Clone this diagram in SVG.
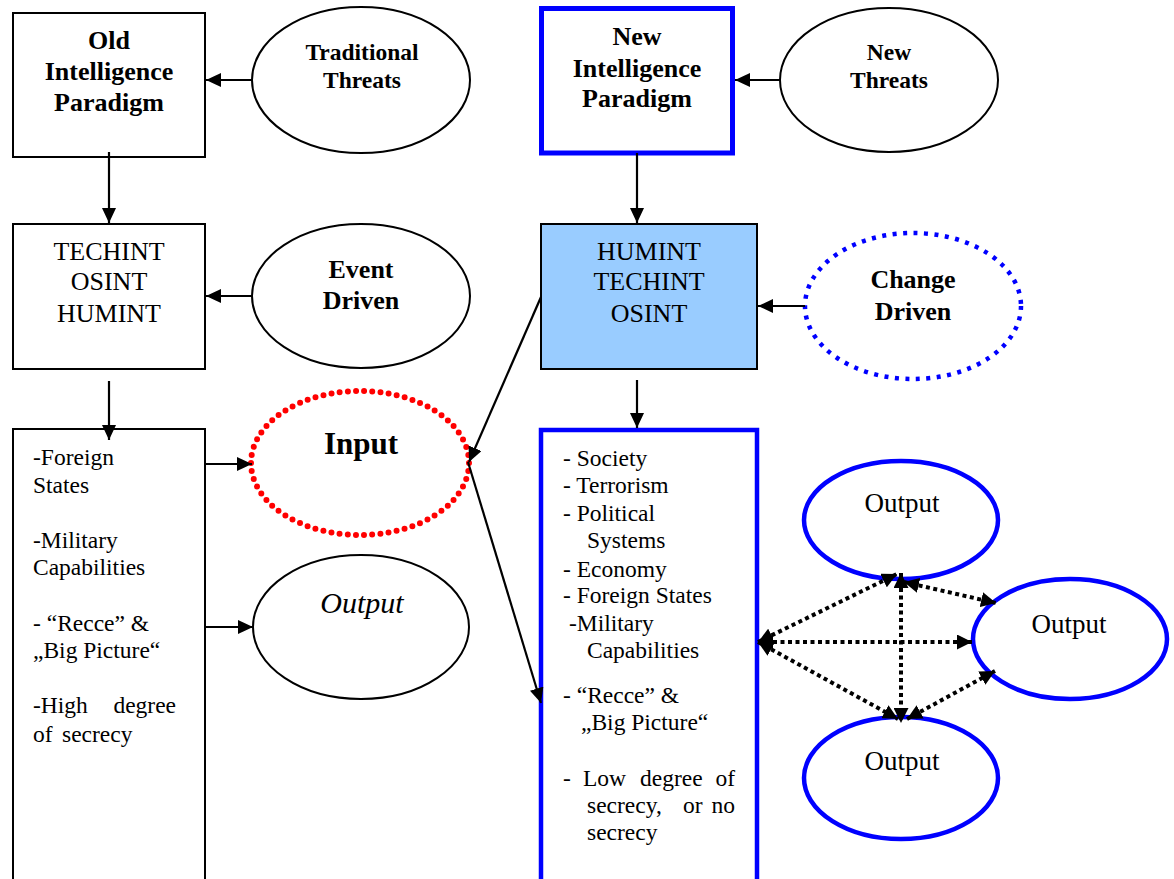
<svg xmlns="http://www.w3.org/2000/svg" width="1174" height="879" viewBox="0 0 1174 879">
  <style>
    text { font-family: 'Liberation Serif', 'DejaVu Serif', serif; fill: #000; }
    .b26 { font-size: 26px; font-weight: bold; text-anchor: middle; }
    .b23 { font-size: 23.5px; font-weight: bold; text-anchor: middle; }
    .r26 { font-size: 26px; text-anchor: middle; }
    .lst { font-size: 23.5px; }
    .out { font-size: 27px; text-anchor: middle; }
    .box { fill: #fff; stroke: #000; stroke-width: 2; }
    .oval { fill: #fff; stroke: #000; stroke-width: 2; }
    .blue { fill: #fff; stroke: #0000ff; stroke-width: 4.5; }
    .conn { fill: none; stroke: #000; stroke-width: 2.2; }
    .dot { fill: none; stroke: #000; stroke-width: 4; stroke-dasharray: 4 3.5; }
  </style>
  <defs>
    <marker id="ah" markerUnits="userSpaceOnUse" markerWidth="16" markerHeight="14" refX="15" refY="7" orient="auto">
      <path d="M0,0 L15,7 L0,14 z" fill="#000"/>
    </marker>
    <marker id="dh" markerUnits="userSpaceOnUse" markerWidth="16" markerHeight="15" refX="15" refY="7.5" orient="auto-start-reverse">
      <path d="M0,0 L15,7.5 L0,15 z" fill="#000"/>
    </marker>
  </defs>

  <rect width="1174" height="879" fill="#fff"/>

  <!-- left column: old paradigm -->
  <g id="old-paradigm">
    <rect class="box" x="13" y="13" width="192" height="144"/>
    <text class="b26" x="109" y="49" font-family="Liberation Serif">Old</text>
    <text class="b26" x="109" y="80">Intelligence</text>
    <text class="b26" x="109" y="111">Paradigm</text>
  </g>
  <g id="traditional-threats">
    <ellipse class="oval" cx="361" cy="80" rx="109" ry="73"/>
    <text class="b23" x="362" y="60">Traditional</text>
    <text class="b23" x="362" y="88">Threats</text>
  </g>
  <g id="old-sources">
    <rect class="box" x="13" y="224" width="192" height="145"/>
    <text class="r26" x="109" y="260">TECHINT</text>
    <text class="r26" x="109" y="290">OSINT</text>
    <text class="r26" x="109" y="322">HUMINT</text>
  </g>
  <g id="event-driven">
    <ellipse class="oval" cx="361" cy="296" rx="109" ry="72"/>
    <text class="b26" x="361" y="278">Event</text>
    <text class="b26" x="361" y="309">Driven</text>
  </g>
  <g id="old-targets">
    <rect class="box" x="13" y="429" width="192" height="470"/>
    <text class="lst" x="33" y="465">-Foreign</text>
    <text class="lst" x="33" y="493">States</text>
    <text class="lst" x="33" y="548">-Military</text>
    <text class="lst" x="33" y="575">Capabilities</text>
    <text class="lst" x="33" y="631">- “Recce” &amp;</text>
    <text class="lst" x="33" y="658">„Big Picture“</text>
    <text class="lst" x="33" y="713">-High</text>
    <text class="lst" x="176" y="713" text-anchor="end">degree</text>
    <text class="lst" x="33" y="742">of</text>
    <text class="lst" x="62" y="742">secrecy</text>
  </g>
  <g id="input">
    <ellipse cx="360" cy="463" rx="109" ry="72" fill="#fff" stroke="#ff0000" stroke-width="6" stroke-linecap="round" stroke-dasharray="0 8.2"/>
    <text x="361" y="454" font-size="31" font-weight="bold" text-anchor="middle">Input</text>
  </g>
  <g id="old-output">
    <ellipse class="oval" cx="361" cy="627" rx="108" ry="72"/>
    <text x="362" y="613" font-size="30" font-style="italic" text-anchor="middle">Output</text>
  </g>

  <!-- right column: new paradigm -->
  <g id="new-paradigm">
    <rect x="541.5" y="8.5" width="191" height="144.5" fill="#fff" stroke="#0000ff" stroke-width="5"/>
    <text class="b26" x="637" y="45">New</text>
    <text class="b26" x="637" y="77">Intelligence</text>
    <text class="b26" x="637" y="107">Paradigm</text>
  </g>
  <g id="new-threats">
    <ellipse class="oval" cx="889" cy="80" rx="109" ry="72"/>
    <text class="b23" x="889" y="60">New</text>
    <text class="b23" x="889" y="88">Threats</text>
  </g>
  <g id="new-sources">
    <rect x="541" y="224" width="216" height="145" fill="#99ccff" stroke="#000" stroke-width="2"/>
    <text class="r26" x="649" y="260">HUMINT</text>
    <text class="r26" x="649" y="290">TECHINT</text>
    <text class="r26" x="649" y="322">OSINT</text>
  </g>
  <g id="change-driven">
    <ellipse cx="913" cy="306" rx="108" ry="73" fill="#fff" stroke="#0000ff" stroke-width="4.5" stroke-dasharray="4 6.5"/>
    <text class="b26" x="913" y="288">Change</text>
    <text class="b26" x="913" y="320">Driven</text>
  </g>
  <g id="new-targets">
    <rect class="blue" x="541" y="430" width="216" height="470"/>
    <text class="lst" x="563" y="466">- Society</text>
    <text class="lst" x="563" y="493">- Terrorism</text>
    <text class="lst" x="563" y="521">- Political</text>
    <text class="lst" x="587" y="548">Systems</text>
    <text class="lst" x="563" y="577">- Economy</text>
    <text class="lst" x="563" y="603">- Foreign States</text>
    <text class="lst" x="569" y="631">-Military</text>
    <text class="lst" x="587" y="658">Capabilities</text>
    <text class="lst" x="563" y="703">- “Recce” &amp;</text>
    <text class="lst" x="581" y="730">„Big Picture“</text>
    <text class="lst" x="563" y="786">-</text>
    <text class="lst" x="583" y="786">Low</text>
    <text class="lst" x="640" y="786">degree</text>
    <text class="lst" x="735" y="786" text-anchor="end">of</text>
    <text class="lst" x="587" y="813">secrecy,</text>
    <text class="lst" x="683" y="813">or</text>
    <text class="lst" x="735" y="813" text-anchor="end">no</text>
    <text class="lst" x="587" y="840">secrecy</text>
  </g>
  <g id="output-top">
    <ellipse class="blue" cx="901" cy="520" rx="97" ry="59"/>
    <text class="out" x="902" y="512">Output</text>
  </g>
  <g id="output-right">
    <ellipse class="blue" cx="1070" cy="639" rx="97" ry="60"/>
    <text class="out" x="1069" y="633">Output</text>
  </g>
  <g id="output-bottom">
    <ellipse class="blue" cx="901" cy="778" rx="97" ry="61"/>
    <text class="out" x="902" y="770">Output</text>
  </g>

  <!-- connectors -->
  <g id="connectors">
    <line class="conn" x1="252" y1="80" x2="206" y2="80" marker-end="url(#ah)"/>
    <line class="conn" x1="109" y1="152" x2="109" y2="223" marker-end="url(#ah)"/>
    <line class="conn" x1="252" y1="296" x2="206" y2="296" marker-end="url(#ah)"/>
    <line class="conn" x1="109" y1="381" x2="109" y2="440" marker-end="url(#ah)"/>
    <line class="conn" x1="205" y1="464" x2="252" y2="464" marker-end="url(#ah)"/>
    <line class="conn" x1="205" y1="627" x2="253" y2="627" marker-end="url(#ah)"/>

    <line class="conn" x1="780" y1="80" x2="735" y2="80" marker-end="url(#ah)"/>
    <line class="conn" x1="637" y1="153" x2="637" y2="223" marker-end="url(#ah)"/>
    <line class="conn" x1="805" y1="306" x2="758" y2="306" marker-end="url(#ah)"/>
    <line class="conn" x1="637" y1="380" x2="637" y2="428" marker-end="url(#ah)"/>
    <line class="conn" x1="541" y1="297" x2="469" y2="462" marker-end="url(#ah)"/>
    <line class="conn" x1="468" y1="462" x2="541" y2="703" marker-end="url(#ah)"/>

    <!-- links between the three outputs -->
    <line class="dot" x1="758" y1="642" x2="897" y2="574" marker-start="url(#dh)" marker-end="url(#dh)"/>
    <line class="dot" x1="758" y1="642" x2="972" y2="642" marker-start="url(#dh)" marker-end="url(#dh)"/>
    <line class="dot" x1="758" y1="642" x2="898" y2="719" marker-start="url(#dh)" marker-end="url(#dh)"/>
    <line class="dot" x1="901" y1="573" x2="901" y2="723" marker-start="url(#dh)" marker-end="url(#dh)"/>
    <line class="dot" x1="904" y1="582" x2="996" y2="603" marker-start="url(#dh)" marker-end="url(#dh)"/>
    <line class="dot" x1="907" y1="719" x2="995" y2="671" marker-start="url(#dh)" marker-end="url(#dh)"/>
  </g>
</svg>
